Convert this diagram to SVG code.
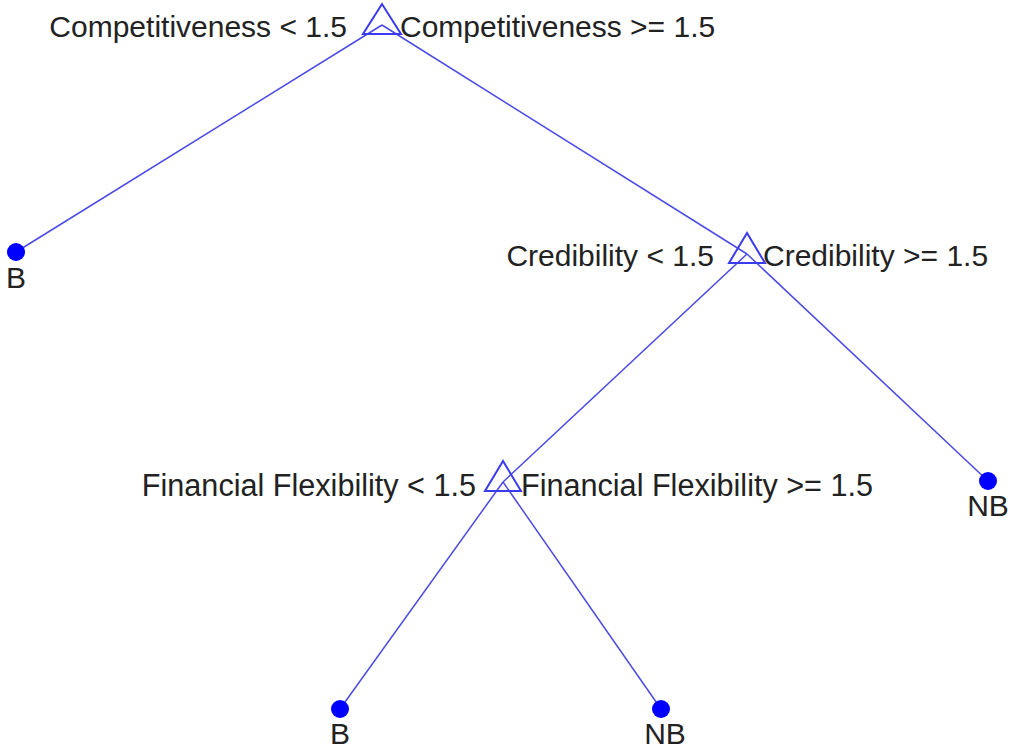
<svg xmlns="http://www.w3.org/2000/svg" width="1013" height="751" viewBox="0 0 1013 751">
  <style>
    .edge { stroke: #4a4ae6; stroke-width: 1.5; fill: none; }
    .split { stroke: #3a3af0; stroke-width: 2; fill: none; stroke-linejoin: miter; }
    .leaf { fill: #0000ff; }
    text { font-family: "Liberation Sans", Arial, sans-serif; font-size: 30px; fill: #222; }
    .wide { font-size: 30.6px; }
    .r { text-anchor: end; }
    .m { text-anchor: middle; }
  </style>
  <rect width="1013" height="751" fill="#ffffff"/>

  <g id="edges">
    <line class="edge" x1="382" y1="25" x2="16" y2="252"/>
    <line class="edge" x1="382" y1="25" x2="747" y2="254"/>
    <line class="edge" x1="747" y1="254" x2="503" y2="482"/>
    <line class="edge" x1="747" y1="254" x2="988" y2="481"/>
    <line class="edge" x1="503" y1="482" x2="340" y2="709"/>
    <line class="edge" x1="503" y1="482" x2="661" y2="709"/>
  </g>

  <g id="root">
    <polygon class="split" points="382,4 363,34 401,34"/>
    <text class="r" x="347" y="37">Competitiveness &lt; 1.5</text>
    <text x="400" y="37">Competitiveness &gt;= 1.5</text>
  </g>

  <g id="credibility">
    <polygon class="split" points="747,233 729,263 765,263"/>
    <text class="r" x="714" y="266">Credibility &lt; 1.5</text>
    <text x="763" y="266">Credibility &gt;= 1.5</text>
  </g>

  <g id="flexibility">
    <polygon class="split" points="503,461 485,491 521,491"/>
    <text class="r wide" x="476" y="496">Financial Flexibility &lt; 1.5</text>
    <text class="wide" x="521" y="496">Financial Flexibility &gt;= 1.5</text>
  </g>

  <g id="leaf-b1">
    <circle class="leaf" cx="16" cy="252" r="9"/>
    <text class="m" x="16" y="288">B</text>
  </g>
  <g id="leaf-nb1">
    <circle class="leaf" cx="988" cy="481" r="9"/>
    <text class="m" x="988" y="516">NB</text>
  </g>
  <g id="leaf-b2">
    <circle class="leaf" cx="340" cy="709" r="9"/>
    <text class="m" x="340" y="744">B</text>
  </g>
  <g id="leaf-nb2">
    <circle class="leaf" cx="661" cy="709" r="9"/>
    <text class="m" x="665" y="744">NB</text>
  </g>
</svg>
